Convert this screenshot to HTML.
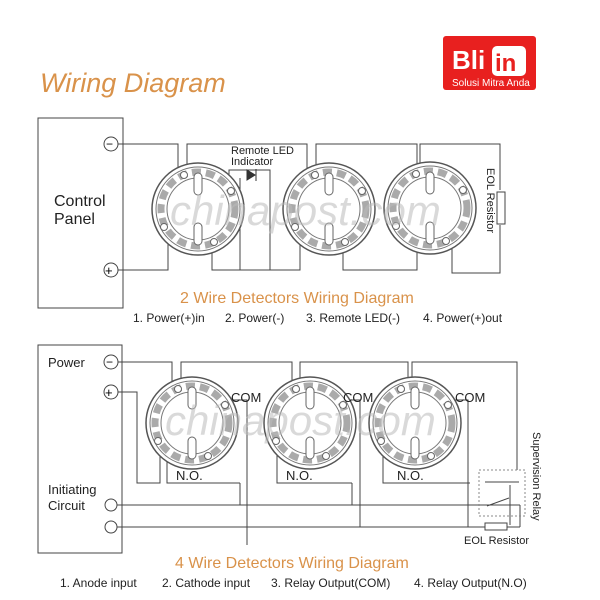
<!DOCTYPE html>
<html><head><style>
body{margin:0;background:#fff;}
svg{display:block;font-family:"Liberation Sans",sans-serif;}
</style></head><body>
<svg width="600" height="600" viewBox="0 0 600 600" xmlns="http://www.w3.org/2000/svg">
<defs>
<g id="det">
<circle r="46" fill="#fff" stroke="#555" stroke-width="1.5"/>
<circle r="42" fill="none" stroke="#777" stroke-width="1"/>
<circle r="31" fill="none" stroke="#777" stroke-width="1"/>
<circle r="37" fill="none" stroke="#aaa" stroke-width="7" stroke-dasharray="9 5"/>
<rect x="-4" y="-36" width="8" height="22" rx="4" fill="#fff" stroke="#666"/>
<rect x="-4" y="14" width="8" height="22" rx="4" fill="#fff" stroke="#666"/>
<circle cx="-14" cy="-34" r="3.5" fill="#fff" stroke="#666"/>
<circle cx="33" cy="-18" r="3.5" fill="#fff" stroke="#666"/>
<circle cx="-34" cy="18" r="3.5" fill="#fff" stroke="#666"/>
<circle cx="16" cy="33" r="3.5" fill="#fff" stroke="#666"/>
</g>
</defs>
<rect x="443" y="36" width="93" height="54" rx="3" fill="#e8201f"/>
<text x="452" y="69" font-size="26" font-weight="bold" fill="#fff">Bli</text>
<rect x="492" y="46" width="34" height="30" rx="5" fill="#fff"/>
<text x="495" y="71" font-size="24" font-weight="bold" fill="#e8201f">in</text>
<text x="452" y="86" font-size="10" fill="#fff">Solusi Mitra Anda</text>
<text x="40" y="92" font-size="27" font-style="italic" fill="#d9924a">Wiring Diagram</text>

<g stroke="#444" stroke-width="1" fill="none">
<rect x="38" y="118" width="85" height="190"/>
<path d="M118 144H178V170M187 178V144H307V170M316 178V144H417V170M420 178V144H500V190M500 225V273H452V242"/>
<path d="M118 270H168V240M212 242V270H300V240M343 242V270H417V240"/>
<path d="M229 178V170H270V270M240 178V270"/>
<rect x="38" y="345" width="84" height="208"/>
<path d="M118 362H172V392M181 388V362H292V388M300 388V362H408V388M412 388V362H517V470"/>
<path d="M118 392H137V483H160V445M167 445V483H240M277 445V483H352M383 445V483H470"/>
<path d="M225 400H247V545M343 400H360V527M455 400H468V527"/>
<path d="M117 505H520M117 527H520M240 483V505M352 483V505"/>
<path d="M520 505V527M510 485V525"/>
</g>
<circle cx="111" cy="144" r="7" fill="#fff" stroke="#444"/><text x="106" y="148" font-size="12">−</text>
<circle cx="111" cy="270" r="7" fill="#fff" stroke="#444"/><text x="105" y="275" font-size="13">+</text>
<circle cx="111" cy="362" r="7" fill="#fff" stroke="#444"/><text x="106" y="366" font-size="12">−</text>
<circle cx="111" cy="392" r="7" fill="#fff" stroke="#444"/><text x="105" y="397" font-size="13">+</text>
<circle cx="111" cy="505" r="6" fill="#fff" stroke="#444"/>
<circle cx="111" cy="527" r="6" fill="#fff" stroke="#444"/>

<use href="#det" x="198" y="209"/>
<use href="#det" x="329" y="209"/>
<use href="#det" x="430" y="208"/>
<use href="#det" x="192" y="423"/>
<use href="#det" x="310" y="423"/>
<use href="#det" x="415" y="423"/>

<text x="170" y="225" font-size="42" font-style="italic" fill="#bbb" opacity="0.55">chinapost.com</text>
<text x="165" y="435" font-size="42" font-style="italic" fill="#bbb" opacity="0.55">chinapost.com</text>

<rect x="497" y="192" width="8" height="32" fill="#fff" stroke="#444"/>
<path d="M247 170l8 5-8 5z M256 169v12" fill="#333" stroke="#333"/>
<text x="231" y="154" font-size="11" fill="#222">Remote LED</text>
<text x="231" y="165" font-size="11" fill="#222">Indicator</text>
<text x="54" y="206" font-size="16" fill="#222">Control</text>
<text x="54" y="224" font-size="16" fill="#222">Panel</text>
<text x="487" y="168" font-size="11" fill="#222" transform="rotate(90 487 168)">EOL Resistor</text>
<text x="180" y="303" font-size="16" fill="#d9924a">2 Wire Detectors Wiring Diagram</text>
<text y="322" font-size="12" fill="#222"><tspan x="133">1.  Power(+)in</tspan><tspan x="225">2. Power(-)</tspan><tspan x="306">3. Remote LED(-)</tspan><tspan x="423">4. Power(+)out</tspan></text>

<text x="48" y="367" font-size="13" fill="#222">Power</text>
<text x="48" y="494" font-size="13" fill="#222">Initiating</text>
<text x="48" y="510" font-size="13" fill="#222">Circuit</text>
<text x="231" y="402" font-size="13" fill="#222">COM</text>
<text x="343" y="402" font-size="13" fill="#222">COM</text>
<text x="455" y="402" font-size="13" fill="#222">COM</text>
<text x="176" y="480" font-size="13" fill="#222">N.O.</text>
<text x="286" y="480" font-size="13" fill="#222">N.O.</text>
<text x="397" y="480" font-size="13" fill="#222">N.O.</text>
<rect x="479" y="470" width="46" height="46" fill="none" stroke="#888" stroke-dasharray="2 2"/>
<path d="M485 482h34M487 506l22-8" stroke="#444" fill="none"/>
<rect x="485" y="523" width="22" height="7" fill="#fff" stroke="#444"/>
<text x="464" y="544" font-size="11" fill="#222">EOL Resistor</text>
<text x="533" y="432" font-size="11" fill="#222" transform="rotate(90 533 432)">Supervision Relay</text>
<text x="175" y="568" font-size="16" fill="#d9924a">4 Wire Detectors Wiring Diagram</text>
<text y="587" font-size="12" fill="#222"><tspan x="60">1.  Anode input</tspan><tspan x="162">2. Cathode input</tspan><tspan x="271">3. Relay Output(COM)</tspan><tspan x="414">4. Relay Output(N.O)</tspan></text>
</svg>
</body></html>
